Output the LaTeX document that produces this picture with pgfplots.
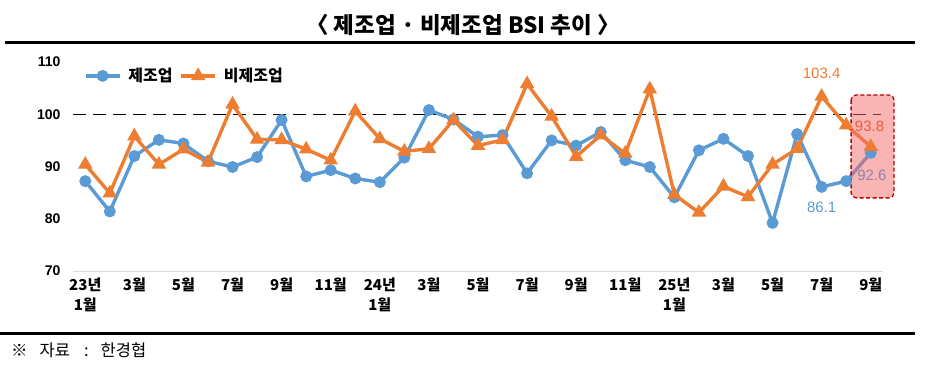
\documentclass[border=0pt]{standalone}
\usepackage{fontspec}
\setmainfont{Noto Sans CJK KR}
\newfontfamily\numfont{Liberation Sans}
\usepackage{pgfplots}
\pgfplotsset{compat=1.18}
\definecolor{cblue}{HTML}{5B9BD5}
\definecolor{corange}{HTML}{ED7D31}
\definecolor{boxfill}{HTML}{F46A6A}
\definecolor{boxborder}{HTML}{C00000}
\definecolor{lblred}{HTML}{F05A34}
\definecolor{lblpurple}{HTML}{8E80B2}
\begin{document}
\begin{tikzpicture}[x=1pt,y=1pt]
\useasboundingbox (0,0) rectangle (928,367);
\node[font=\bfseries\fontsize{22.5}{25}\selectfont] at (463,342) {〈 제조업 · 비제조업 BSI 추이 〉};
\draw[line width=3pt] (5,324) -- (915,324);
\draw[line width=3pt] (0,34) -- (915,34);
\node[anchor=west, font=\fontsize{16.5}{18}\selectfont, inner sep=0pt] at (11,17) {※\hspace{12pt}자료\hspace{14pt}:\hspace{12pt}한경협};
\begin{axis}[
  at={(73pt,96pt)}, anchor=south west,
  scale only axis, width=810pt, height=209pt,
  xmin=-0.5, xmax=32.5, ymin=70, ymax=110,
  clip=false,
  axis lines*=left,
  x axis line style={draw=gray!30, line width=1pt, -},
  y axis line style={draw=none},
  major tick length=0pt,
  xtick={0,2,...,32},
  xticklabels={{23년\\1월},3월,5월,7월,9월,11월,{24년\\1월},3월,5월,7월,9월,11월,{25년\\1월},3월,5월,7월,9월},
  xticklabel style={align=center, font=\bfseries\fontsize{15}{20}\selectfont, yshift=-3pt},
  ytick={70,80,90,100,110},
  yticklabel style={font=\bfseries\numfont\fontsize{14}{16}\selectfont, xshift=-9pt},
  /pgf/number format/assume math mode=true,
  legend style={at={(rel axis cs:0.012,0.985)}, anchor=north west, draw=none, fill=none,
    font=\bfseries\fontsize{16}{18}\selectfont, column sep=5pt, inner sep=1pt},
  legend columns=2,
  legend image code/.code={\draw[mark repeat=2,mark phase=2,#1] plot coordinates {(0pt,0pt) (17pt,0pt) (34pt,0pt)};},
]
\addplot[black, line width=1.4pt, dash pattern=on 13pt off 7pt, forget plot] coordinates {(-0.5,100) (32.4,100)};
\addplot[cblue, line width=3.4pt, mark=*, mark size=4.2pt, mark options={solid}] coordinates {
(0,87.2)(1,81.4)(2,92.0)(3,95.1)(4,94.4)(5,91.0)(6,89.9)(7,91.8)(8,98.9)(9,88.1)(10,89.3)
(11,87.7)(12,87.0)(13,91.7)(14,100.8)(15,99.0)(16,95.7)(17,96.0)(18,88.7)(19,95.0)(20,94.0)
(21,96.6)(22,91.2)(23,89.9)(24,84.1)(25,93.1)(26,95.3)(27,92.0)(28,79.2)(29,96.2)(30,86.1)
(31,87.2)(32,92.6)};
\addlegendentry{제조업}
\addplot[corange, line width=3.4pt, mark=triangle*, mark size=5pt, mark options={solid}] coordinates {
(0,90.4)(1,84.9)(2,95.8)(3,90.4)(4,93.3)(5,90.8)(6,101.9)(7,95.2)(8,95.1)(9,93.3)(10,91.2)
(11,100.6)(12,95.3)(13,92.9)(14,93.4)(15,98.9)(16,94.0)(17,95.1)(18,105.8)(19,99.6)(20,91.9)
(21,96.0)(22,92.5)(23,104.8)(24,84.6)(25,81.2)(26,86.2)(27,84.2)(28,90.4)(29,93.4)(30,103.4)
(31,97.9)(32,93.8)};
\addlegendentry{비제조업}
\node[font=\numfont\fontsize{15}{17}\selectfont, text=corange] at (axis cs:30,107.9) {103.4};
\node[font=\numfont\fontsize{15}{17}\selectfont, text=cblue] at (axis cs:30,82.25) {86.1};
\draw[boxborder, line width=1.3pt, dash pattern=on 4pt off 2.5pt, rounded corners=5pt, fill=boxfill, fill opacity=0.5] (axis cs:31.2,103.7) rectangle (axis cs:32.95,84.0);
\node[font=\numfont\fontsize{15}{17}\selectfont, text=lblred] at (axis cs:31.95,97.6) {93.8};
\node[font=\numfont\fontsize{15}{17}\selectfont, text=lblpurple] at (axis cs:32.05,88.4) {92.6};
\end{axis}
\end{tikzpicture}
\end{document}
